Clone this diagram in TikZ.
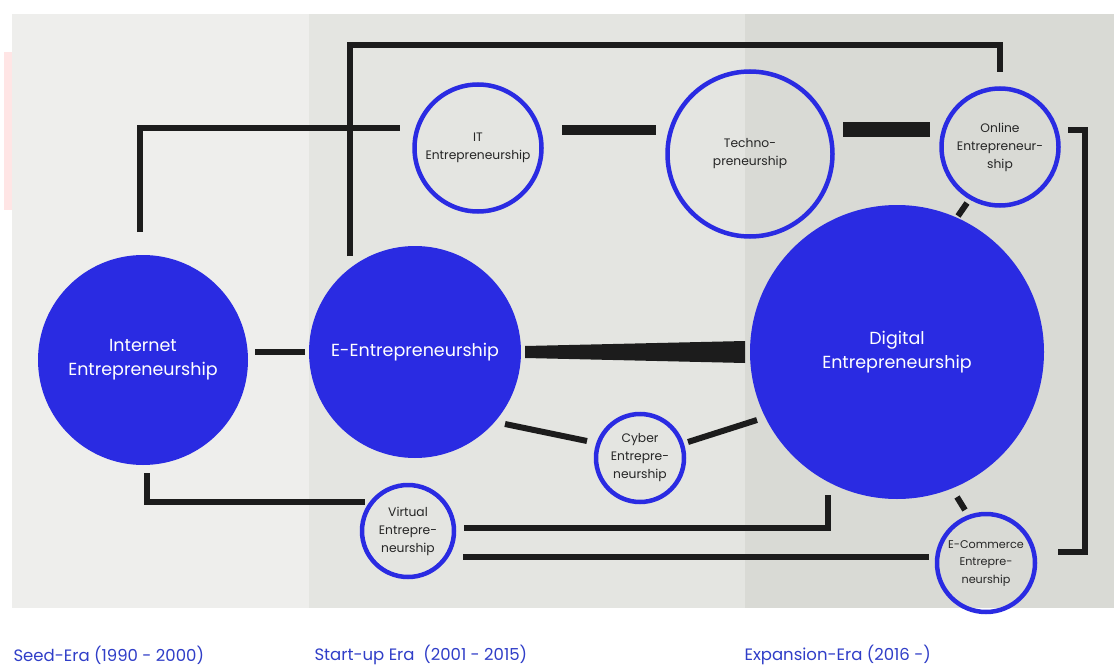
\documentclass[tikz,border=0pt]{standalone}
\usepackage{fontspec}
\setmainfont{Poppins}
\usetikzlibrary{calc}
\definecolor{cblue}{RGB}{42,43,226}
\definecolor{lblue}{RGB}{48,62,200}
\definecolor{pone}{RGB}{238,238,236}
\definecolor{ptwo}{RGB}{228,229,225}
\definecolor{pthree}{RGB}{217,218,213}
\definecolor{ink}{RGB}{28,28,28}
\definecolor{txt}{RGB}{38,38,38}
\tikzset{
  bigc/.style={circle,fill=cblue,text=white,inner sep=0pt,align=center,font=\fontsize{17.5}{24}\selectfont},
  smallc/.style={circle,draw=cblue,line width=4.5pt,text=txt,inner sep=0pt,align=center,font=\fontsize{12.3}{18}\selectfont},
  conn/.style={draw=ink,line width=6pt},
  era/.style={text=lblue,anchor=west,font=\fontsize{16.5}{18}\selectfont}
}
\begin{document}
\begin{tikzpicture}[x=1pt,y=-1pt]
\useasboundingbox (0,0) rectangle (1114,666);
\fill[white] (0,0) rectangle (1114,666);
\fill[red!10] (4,52) rectangle (13,210);
\fill[pone] (12,14) rectangle (309,608);
\fill[ptwo] (309,14) rectangle (745,608);
\fill[pthree] (745,14) rectangle (1114,608);
% nodes
\node[bigc,minimum size=210pt] (inet) at (143,360) {Internet\\Entrepreneurship};
\node[bigc,minimum size=212pt] (eent) at (415,352) {E-Entrepreneurship};
\node[bigc,minimum size=294pt] (digital) at (897,352) {Digital\\Entrepreneurship};
\node[smallc,minimum size=127pt] (it) at (478,148) {IT\\Entrepreneurship};
\node[smallc,minimum size=165pt] (techno) at (750,154) {Techno-\\preneurship};
\node[smallc,minimum size=117pt] (online) at (1000,147) {Online\\Entrepreneur-\\ship};
\node[smallc,minimum size=88pt] (cyber) at (640,458) {Cyber\\Entrepre-\\neurship};
\node[smallc,minimum size=92pt] (virtual) at (408,531) {Virtual\\Entrepre-\\neurship};
\node[smallc,minimum size=98pt,font=\fontsize{11.2}{17.5}\selectfont] (ecom) at (986,563) {E-Commerce\\Entrepre-\\neurship};
\coordinate (top) at (675,45);
\coordinate (rb) at (1085,340);
% connectors
\draw[conn] ($(inet)+(-3,-128)$) |- ($(it)+(-78,-20)$);
\draw[conn] ($(eent)+(-65,-96)$) |- (top) -| ($(online)+(0,-75)$);
\draw[conn,line width=10pt] ($(it)+(84,-18)$) -- ($(techno)+(-94,-24)$);
\draw[conn,line width=15pt] ($(techno)+(93,-24)$) -- ($(online)+(-70,-17)$);
\draw[conn] ($(online)+(68,-17)$) -| (rb) |- ($(ecom)+(72,-11)$);
\draw[conn] ($(online)+(-33,56)$) -- ($(digital)+(61,-136)$);
\draw[conn] ($(inet)+(112,-8)$) -- ($(eent)+(-110,0)$);
\fill[ink] ($(eent)+(110,-6)$) -- ($(digital)+(-152,-11)$) -- ($(digital)+(-152,11)$) -- ($(eent)+(110,6)$) -- cycle;
\draw[conn] ($(eent)+(90,72)$) -- ($(cyber)+(-53,-17)$);
\draw[conn] ($(cyber)+(48,-16)$) -- ($(digital)+(-140,68)$);
\draw[conn] ($(inet)+(4,113)$) |- ($(virtual)+(-43,-29)$);
\draw[conn] ($(virtual)+(56,-3)$) -| ($(digital)+(-69,143)$);
\draw[conn] ($(virtual)+(55,26)$) -- ($(ecom)+(-57,-6)$);
\draw[conn] ($(digital)+(60,145)$) -- ($(ecom)+(-21,-53)$);
% era labels
\node[era] (e1) at (10,655) {Seed-Era (1990 - 2000)};
\node[era] (e2) at (311,655) {Start-up Era\ \ (2001 - 2015)};
\node[era] (e3) at (741,655) {Expansion-Era (2016 -)};
\end{tikzpicture}
\end{document}
